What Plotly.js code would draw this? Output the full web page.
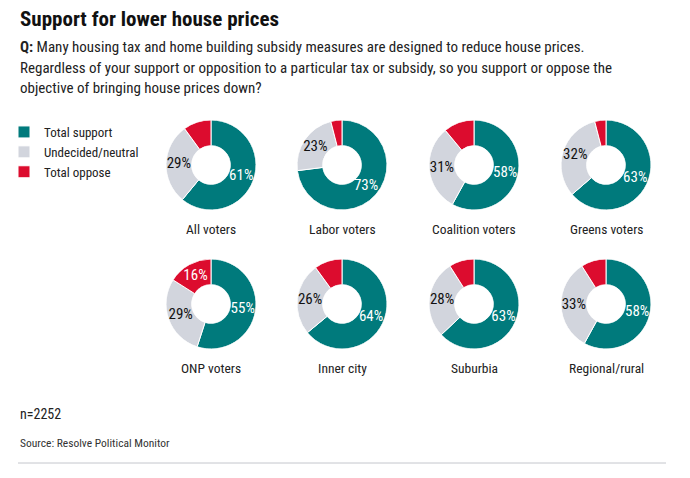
<!DOCTYPE html>
<html><head><meta charset="utf-8">
<script src="https://cdn.plot.ly/plotly-3.0.1.min.js"></script>
<style>html,body{margin:0;padding:0;background:#fff}#chart{width:690px;height:478px}</style>
</head><body><div id="chart"></div>
<script>
// ---- data ----
const categories = ['Total support', 'Undecided/neutral', 'Total oppose'];
const groups = ['All voters', 'Labor voters', 'Coalition voters', 'Greens voters',
                'ONP voters', 'Inner city', 'Suburbia', 'Regional/rural'];
const support = [61, 73, 58, 63, 55, 64, 63, 58];
const neutral = [29, 23, 31, 32, 29, 26, 28, 33];
const oppose  = [10, 4, 11, 4, 16, 10, 9, 9];
const titleText = 'Support for lower house prices';
const questionLines = [
  '<b>Q:</b> Many housing tax and home building subsidy measures are designed to reduce house prices.',
  'Regardless of your support or opposition to a particular tax or subsidy, so you support or oppose the',
  'objective of bringing house prices down?'
];
const sampleNote = 'n=2252';
const sourceNote = 'Source: Resolve Political Monitor';

// ---- styling / layout ----
const W = 690, H = 478;
const FONT = '"Roboto Condensed", "DejaVu Sans Condensed", sans-serif';
const colors = ['#007a7c', '#d2d5dd', '#dc0c2e'];
const textColors = ['#ffffff', '#111111', '#ffffff'];
const colX = [211, 342, 474, 606];
const rowY = [165, 304];
const R = 45;
const HOLE = 0.43;
const MIN_LABEL = 15;

const traces = [];
const annotations = [];
const layout = {
  width: W, height: H,
  margin: {l: 0, r: 0, t: 0, b: 0},
  paper_bgcolor: '#fff', plot_bgcolor: '#fff',
  font: {family: FONT, color: '#222'},
  showlegend: true,
  legend: {
    x: 4 / W, y: 1 - 117 / H, xanchor: 'left', yanchor: 'top',
    font: {family: FONT, size: 13, color: '#222'},
    traceorder: 'normal', bgcolor: 'rgba(0,0,0,0)'
  }
};

groups.forEach((g, i) => {
  const cx = colX[i % 4], cy = rowY[Math.floor(i / 4)];
  const vals = [support[i], neutral[i], oppose[i]];
  const total = vals.reduce((a, b) => a + b, 0);
  const sub = 'polar' + (i === 0 ? '' : (i + 1));
  layout[sub] = {
    domain: {x: [(cx - R) / W, (cx + R) / W], y: [1 - (cy + R) / H, 1 - (cy - R) / H]},
    hole: HOLE,
    bgcolor: 'rgba(0,0,0,0)',
    radialaxis: {range: [0, 1], visible: false},
    angularaxis: {rotation: 90, direction: 'clockwise', visible: false},
    barmode: 'overlay'
  };
  let cum = 0;
  const mids = [];
  vals.forEach((v, k) => {
    const mid = (cum + v / 2) * 360 / total;
    mids.push(mid);
    traces.push({
      type: 'barpolar',
      subplot: sub,
      name: categories[k],
      legendgroup: categories[k],
      showlegend: i === 0,
      r: [1],
      theta: [mid],
      width: [v * 360 / total],
      marker: {color: colors[k], line: {color: '#ffffff', width: 1}},
      hoverinfo: 'skip'
    });
    cum += v;
  });
  traces.push({
    type: 'scatterpolar',
    subplot: sub,
    mode: 'text',
    showlegend: false,
    r: vals.map(() => 0.5),
    theta: mids,
    text: vals.map(v => v >= MIN_LABEL ? v + '%' : ''),
    textposition: 'middle center',
    textfont: {family: FONT, size: 15, color: textColors},
    hoverinfo: 'skip',
    cliponaxis: false
  });
  annotations.push({
    xref: 'paper', yref: 'paper', x: cx / W, y: 1 - (cy + 64) / H,
    xanchor: 'center', yanchor: 'middle', showarrow: false,
    text: g, font: {family: FONT, size: 13.5, color: '#222'}
  });
});

annotations.push({
  xref: 'paper', yref: 'paper', x: 18 / W, y: 1 - 19 / H, xanchor: 'left', yanchor: 'middle',
  showarrow: false, text: '<b>' + titleText + '</b>',
  font: {family: FONT, size: 21, color: '#111'}
});
[47, 67.5, 88].forEach((yy, j) => {
  annotations.push({
    xref: 'paper', yref: 'paper', x: 18 / W, y: 1 - yy / H, xanchor: 'left', yanchor: 'middle',
    showarrow: false, text: questionLines[j],
    font: {family: FONT, size: 15, color: '#222'}
  });
});
annotations.push({
  xref: 'paper', yref: 'paper', x: 18 / W, y: 1 - 414 / H, xanchor: 'left', yanchor: 'middle',
  showarrow: false, text: sampleNote, font: {family: FONT, size: 14, color: '#222'}
});
annotations.push({
  xref: 'paper', yref: 'paper', x: 18 / W, y: 1 - 443 / H, xanchor: 'left', yanchor: 'middle',
  showarrow: false, text: sourceNote, font: {family: FONT, size: 11.5, color: '#333'}
});
layout.annotations = annotations;
layout.shapes = [{
  type: 'line', xref: 'paper', yref: 'paper',
  x0: 18 / W, x1: 666 / W, y0: 1 - 463 / H, y1: 1 - 463 / H,
  line: {color: '#c4c6cc', width: 1}
}];

Plotly.newPlot('chart', traces, layout, {displayModeBar: false, staticPlot: true});
</script></body></html>
